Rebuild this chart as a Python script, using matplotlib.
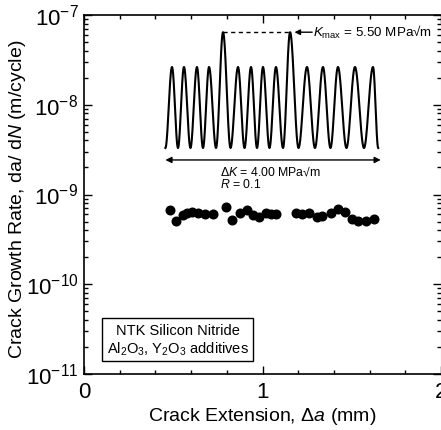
import numpy as np
import matplotlib
matplotlib.use("Agg")
import matplotlib.pyplot as plt
from matplotlib.patches import Rectangle
from matplotlib.ticker import FixedLocator, LogLocator, NullFormatter

plt.rcParams['font.family'] = ['Liberation Sans', 'DejaVu Sans']
plt.rcParams['mathtext.fontset'] = 'custom'
plt.rcParams['mathtext.rm'] = 'Liberation Sans'
plt.rcParams['mathtext.it'] = 'Liberation Sans:italic'
plt.rcParams['mathtext.bf'] = 'Liberation Sans:bold'

# ---- data ----
crack_ext = [0.480, 0.514, 0.553, 0.575, 0.603, 0.637, 0.676, 0.721,
             0.793, 0.827, 0.872, 0.911, 0.944, 0.983, 1.022, 1.050, 1.078,
             1.190, 1.223, 1.263, 1.307, 1.335, 1.385, 1.425, 1.464, 1.503,
             1.536, 1.581, 1.626]
growth_rate = [6.7e-10, 5.1e-10, 5.9e-10, 6.2e-10, 6.4e-10, 6.2e-10, 6.1e-10, 6.1e-10,
               7.2e-10, 5.2e-10, 6.2e-10, 6.7e-10, 5.9e-10, 5.6e-10, 6.2e-10, 6.1e-10, 6.1e-10,
               6.2e-10, 6.1e-10, 6.2e-10, 5.6e-10, 5.8e-10, 6.2e-10, 6.9e-10, 6.4e-10, 5.4e-10,
               5.1e-10, 5.1e-10, 5.3e-10]

# schematic loading waveform (relative units)
peak_times = [0, 0.95, 1.98, 2.94, 4.05, 5.24, 6.27, 7.22, 8.25, 9.37,
              10.71, 11.98, 13.17, 14.52, 15.95]
peak_level = [1, 1, 1, 1, 1.43, 1, 1, 1, 1, 1.43, 1, 1, 1, 1, 1]

x_ticks = [0, 1, 2]
x_ticklabels = ["0", "1", "2"]

# ---- figure ----
fig = plt.figure(figsize=(4.41, 4.30), dpi=100)
ax = fig.add_axes([84/441, 1-374/430, 357/441, 359/430])

ax.semilogy(crack_ext, growth_rate, 'o', color='black', ms=6.2, mec='black')
ax.set_xlim(0, 2)
ax.set_ylim(1e-11, 1e-7)

ax.xaxis.set_major_locator(FixedLocator(x_ticks))
ax.set_xticklabels(x_ticklabels)
ax.xaxis.set_minor_locator(FixedLocator(np.arange(0, 2.01, 0.2)))
ax.yaxis.set_major_locator(LogLocator(base=10, numticks=10))
ax.yaxis.set_minor_locator(LogLocator(base=10, subs=np.arange(2, 10), numticks=20))
ax.yaxis.set_minor_formatter(NullFormatter())

ax.tick_params(which='both', direction='in', top=True, right=True, width=1.0)
ax.tick_params(which='major', length=6, labelsize=16)
ax.tick_params(which='minor', length=3)
ax.tick_params(axis='x', which='major', pad=6)
ax.tick_params(axis='y', which='major', pad=4)
for s in ['left', 'bottom', 'top']:
    ax.spines[s].set_linewidth(1.2)
ax.spines['right'].set_color('#aaaaaa')
ax.spines['right'].set_linewidth(0.8)

ax.set_xlabel("Crack Extension, Δ$a$ (mm)", fontsize=14, labelpad=2)
ax.set_ylabel("Crack Growth Rate, da/ d$N$ (m/cycle)", fontsize=14)
ax.yaxis.set_label_coords(-0.158, 0.487)

# material box
ax.add_patch(Rectangle((0.0504, 0.0362), 0.423, 0.120, transform=ax.transAxes,
                       fill=False, lw=1.0, ec='black'))
ax.text(0.262, 0.120, "NTK Silicon Nitride", transform=ax.transAxes,
        ha='center', va='center', fontsize=10.5)
ax.text(0.262, 0.0696, "Al$_2$O$_3$, Y$_2$O$_3$ additives", transform=ax.transAxes,
        ha='center', va='center', fontsize=10.5)

# ---- inset waveform ----
ins = fig.add_axes([160/441, 1-190/430, 230/441, 165/430])
ins.set_xlim(-0.952, 17.30)
ins.set_ylim(-0.519, 1.519)
ins.axis('off')

pt = np.array(peak_times, dtype=float)
pl = np.array(peak_level, dtype=float)
mids = (pt[:-1] + pt[1:]) / 2
troughs = np.concatenate([[pt[0] - (pt[1] - pt[0]) / 2 - 0.05], mids,
                          [pt[-1] + (pt[-1] - pt[-2]) / 2 - 0.3]])
xs, ys = [], []
for i in range(len(pt)):
    t0, t1 = troughs[i], troughs[i + 1]
    u = np.linspace(0, 1, 60)
    xx = np.where(u < 0.5, t0 + (pt[i] - t0) * 2 * u, pt[i] + (t1 - pt[i]) * (2 * u - 1))
    yy = pl[i] * (1 - np.cos(2 * np.pi * u)) / 2
    xs.append(xx)
    ys.append(yy)
ins.plot(np.concatenate(xs), np.concatenate(ys), color='black', lw=1.5)

# Kmax dashed line and label
ins.plot([pt[4], pt[9]], [pl[4], pl[9]], color='black', lw=1.0, ls=(0, (3, 2.5)))
ins.annotate("", xy=(pt[9] + 0.35, pl[9]), xytext=(pt[9] + 1.75, pl[9]),
             arrowprops=dict(arrowstyle='-|>', color='black', lw=1.0,
                             mutation_scale=8, shrinkA=0, shrinkB=0))
ins.text(pt[9] + 1.8, pl[9], "$K_{\\rm max}$ = 5.50 MPa√m", ha='left', va='center',
         fontsize=9.6)

# Delta K arrow and labels
ins.annotate("", xy=(troughs[0], -0.148), xytext=(troughs[-1] + 0.2, -0.148),
             arrowprops=dict(arrowstyle='<|-|>', color='black', lw=1.0,
                             mutation_scale=9, shrinkA=0, shrinkB=0))
ins.text(3.81, -0.340, "Δ$K$ = 4.00 MPa√m", ha='left', va='baseline', fontsize=8.8)
ins.text(3.81, -0.495, "$R$ = 0.1", ha='left', va='baseline', fontsize=8.8)

fig.savefig("out.png", dpi=100)
